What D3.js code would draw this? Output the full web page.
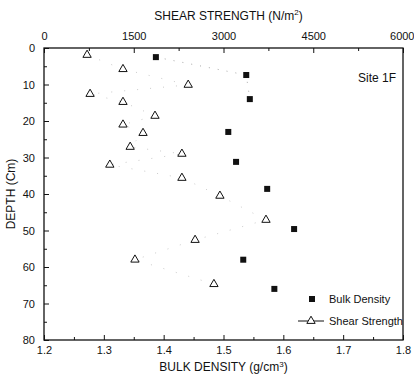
<!DOCTYPE html>
<html>
<head>
<meta charset="utf-8">
<script src="https://cdn.jsdelivr.net/npm/d3@7"></script>
<style>
  body { margin: 0; background: #fff; }
  svg { display: block; font-family: "Liberation Sans", Arial, sans-serif; }
  .tick text { font-size: 11px; fill: #111; }
</style>
</head>
<body>
<svg id="chart" width="414" height="377"></svg>
<script>
// bulk density profile (g/cm3) vs depth (cm)
const bdDepth = [2.5, 7.4, 14, 23, 31.2, 38.6, 49.6, 58, 66];
const bdValue = [1.387, 1.538, 1.544, 1.508, 1.521, 1.573, 1.618, 1.533, 1.585];

// shear strength (N/m2) vs depth (cm)
const ssDepth = [1.9, 5.8, 10.1, 12.6, 14.8, 18.6, 21, 23.3, 27.1, 29, 32, 35.6, 40.5, 47.1, 52.6, 58, 64.7];
const ssValue = [720, 1320, 2410, 770, 1320, 1855, 1320, 1655, 1440, 2305, 1100, 2305, 2940, 3710, 2525, 1520, 2840];

const bdTicks = [1.2, 1.3, 1.4, 1.5, 1.6, 1.7, 1.8];
const ssTicks = [0, 1500, 3000, 4500, 6000];
const depthTicks = [0, 10, 20, 30, 40, 50, 60, 70, 80];

const m = { l: 44, r: 403, t: 48, b: 340 };
const svg = d3.select("#chart");

const x = d3.scaleLinear().domain([1.2, 1.8]).range([m.l, m.r]);
const xTop = d3.scaleLinear().domain([0, 6000]).range([m.l, m.r]);
const y = d3.scaleLinear().domain([0, 80]).range([m.t, m.b]);

// frame
svg.append("rect")
  .attr("x", m.l).attr("y", m.t).attr("width", m.r - m.l).attr("height", m.b - m.t)
  .attr("fill", "none").attr("stroke", "#111").attr("stroke-width", 1.3);

function styleAxis(g) {
  g.select(".domain").remove();
  g.selectAll("line").attr("stroke", "#111").attr("stroke-width", 1);
}

// bottom axis, ticks inside
svg.append("g").attr("transform", `translate(0,${m.b})`)
  .call(d3.axisBottom(x).tickValues(bdTicks).tickFormat(d3.format(".1f")).tickSizeInner(-5).tickPadding(6))
  .call(styleAxis);
svg.append("g").attr("transform", `translate(0,${m.b})`)
  .call(d3.axisBottom(x).tickValues(d3.range(1.25, 1.8, 0.1)).tickFormat("").tickSizeInner(-3))
  .call(styleAxis);

// top axis
const gt = svg.append("g").attr("transform", `translate(0,${m.t})`)
  .call(d3.axisTop(xTop).tickValues(ssTicks).tickFormat(d3.format("d")).tickSizeInner(-5).tickPadding(8))
  .call(styleAxis);
// last label would run off the page edge; pull it in a little
gt.selectAll(".tick text").filter(d => d === 6000).attr("text-anchor", "end").attr("x", 11);
svg.append("g").attr("transform", `translate(0,${m.t})`)
  .call(d3.axisTop(xTop).tickValues(d3.range(750, 6000, 1500)).tickFormat("").tickSizeInner(-3))
  .call(styleAxis);

// left axis
svg.append("g").attr("transform", `translate(${m.l},0)`)
  .call(d3.axisLeft(y).tickValues(depthTicks).tickSizeInner(-5).tickPadding(9))
  .call(styleAxis);
svg.append("g").attr("transform", `translate(${m.l},0)`)
  .call(d3.axisLeft(y).tickValues(d3.range(5, 80, 10)).tickFormat("").tickSizeInner(-3))
  .call(styleAxis);

// axis titles
svg.append("text").attr("x", (m.l + m.r) / 2).attr("y", 371).attr("text-anchor", "middle")
  .attr("font-size", 12).attr("fill", "#111")
  .html('BULK DENSITY (g/cm<tspan dy="-4" font-size="8">3</tspan><tspan dy="4">)</tspan>');
svg.append("text").attr("x", (m.l + m.r) / 2 + 5).attr("y", 20).attr("text-anchor", "middle")
  .attr("font-size", 12).attr("fill", "#111")
  .html('SHEAR STRENGTH (N/m<tspan dy="-5" font-size="8">2</tspan><tspan dy="5">)</tspan>');
svg.append("text").attr("transform", `translate(15,${(m.t + m.b) / 2}) rotate(-90)`)
  .attr("text-anchor", "middle").attr("font-size", 12).attr("fill", "#111").text("DEPTH (Cm)");

svg.append("text").attr("x", 396).attr("y", 82).attr("text-anchor", "end")
  .attr("font-size", 12).attr("fill", "#111").text("Site 1F");

// faint dotted trace of shear strength
const ss = ssDepth.map((d, i) => ({ d, v: ssValue[i] }));
svg.append("path").datum(ss)
  .attr("d", d3.line().x(p => xTop(p.v)).y(p => y(p.d)))
  .attr("fill", "none").attr("stroke", "#ccc").attr("stroke-width", 1)
  .attr("stroke-dasharray", "1,12");

const bd = bdDepth.map((d, i) => ({ d, v: bdValue[i] }));
svg.append("path").datum(bd.slice(0, 3))
  .attr("d", d3.line().x(p => x(p.v)).y(p => y(p.d)))
  .attr("fill", "none").attr("stroke", "#aaa").attr("stroke-width", 1)
  .attr("stroke-dasharray", "1,8");

const tri = d3.symbol().type(d3.symbolTriangle).size(30);
svg.append("g").selectAll("path").data(ss).join("path")
  .attr("d", tri)
  .attr("transform", p => `translate(${xTop(p.v)},${y(p.d)})`)
  .attr("fill", "#fff").attr("stroke", "#111").attr("stroke-width", 1);

svg.append("g").selectAll("rect").data(bd).join("rect")
  .attr("x", p => x(p.v) - 3).attr("y", p => y(p.d) - 3)
  .attr("width", 6).attr("height", 6).attr("fill", "#111");

// legend
const lg = svg.append("g");
lg.append("rect").attr("x", 309).attr("y", 296).attr("width", 6).attr("height", 6).attr("fill", "#111");
lg.append("text").attr("x", 329).attr("y", 303).attr("font-size", 11).attr("fill", "#111").text("Bulk Density");
lg.append("line").attr("x1", 298).attr("x2", 324).attr("y1", 321).attr("y2", 321)
  .attr("stroke", "#111").attr("stroke-width", 1);
lg.append("path").attr("d", tri).attr("transform", "translate(311,321)")
  .attr("fill", "#fff").attr("stroke", "#111").attr("stroke-width", 1);
lg.append("text").attr("x", 329).attr("y", 325).attr("font-size", 11).attr("fill", "#111").text("Shear Strength");
</script>
</body>
</html>
